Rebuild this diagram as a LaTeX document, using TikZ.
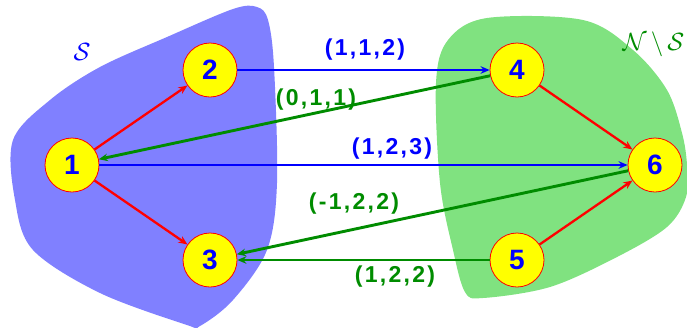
\documentclass[tikz,border=0pt]{standalone}
\usepackage{fontspec}
\usetikzlibrary{arrows.meta}
\newfontfamily\labfont[LetterSpace=10]{Liberation Sans}
\newfontfamily\numfont{Liberation Sans}
\definecolor{blobblue}{RGB}{128,128,255}
\definecolor{blobgreen}{RGB}{128,226,128}
\definecolor{nodeyellow}{RGB}{255,255,0}
\definecolor{edgeblue}{RGB}{0,0,255}
\definecolor{edgegreen}{RGB}{0,140,0}
\definecolor{edgered}{RGB}{255,0,0}
\begin{document}
\begin{tikzpicture}[x=1pt,y=-1pt,
  vert/.style={circle,draw=edgered,line width=0.8pt,fill=nodeyellow,minimum size=54pt,inner sep=0pt,
    font=\numfont\bfseries\fontsize{28}{28}\selectfont,text=edgeblue},
  redarc/.style={draw=edgered,line width=2.3pt,-{Stealth[length=9pt,width=7.5pt]}},
  bluearc/.style={draw=edgeblue,line width=2.3pt,-{Stealth[length=9pt,width=7.5pt]}},
  greenarc/.style={draw=edgegreen,line width=2.9pt,-{Stealth[length=9pt,width=7.5pt]}},
  bluelab/.style={font=\labfont\bfseries\fontsize{23}{23}\selectfont,text=edgeblue},
  greenlab/.style={font=\labfont\bfseries\fontsize{23}{23}\selectfont,text=edgegreen}]
\useasboundingbox (0,0) rectangle (687,327);
% blobs
\fill[blobblue] plot[smooth cycle,tension=0.55] coordinates {
  (257,7) (268,20) (274,67) (277,183) (267,250) (233,300) (200,326) (187,325)
  (100,293) (33,250) (15,200) (13,140) (50,100) (100,67) (167,37) (233,9)};
\fill[blobgreen] plot[smooth cycle,tension=0.55] coordinates {
  (487,18) (583,20) (633,50) (667,90) (682,133) (687,165) (686,197) (667,227)
  (617,257) (550,287) (483,298) (465,292) (453,250) (440,183) (436,83) (448,40)};
% set labels
\node[text=edgeblue,font=\fontsize{28}{28}\selectfont] (lS) at (82,52) {$\mathcal{S}$};
\node[text=edgegreen,font=\fontsize{29}{29}\selectfont,anchor=west] (lNS) at (619,44) {$\mathcal{N}\,\backslash\,\mathcal{S}$};
% vertices
\node[vert] (n1) at (72,165) {1};
\node[vert] (n2) at (210,70) {2};
\node[vert] (n3) at (210,260) {3};
\node[vert] (n4) at (517,70) {4};
\node[vert] (n5) at (517,260) {5};
\node[vert] (n6) at (655,165) {6};
% arcs
\draw[redarc] (n1) -- (n2);
\draw[redarc] (n1) -- (n3);
\draw[redarc] (n4) -- (n6);
\draw[redarc] (n5) -- (n6);
\draw[bluearc] (n2) -- (n4);
\draw[bluearc] (n1) -- (n6);
\draw[greenarc] (n4) -- (n1);
\draw[greenarc] (n6) -- (n3);
\draw[greenarc] (n5) -- (n3);
% arc labels
\node[bluelab] (l24) at (365,50) {(1,1,2)};
\node[greenlab] (l41) at (316,100) {(0,1,1)};
\node[bluelab] (l16) at (392,149) {(1,2,3)};
\node[greenlab] (l63) at (354,204) {(-1,2,2)};
\node[greenlab] (l53) at (395,277) {(1,2,2)};
\end{tikzpicture}
\end{document}
